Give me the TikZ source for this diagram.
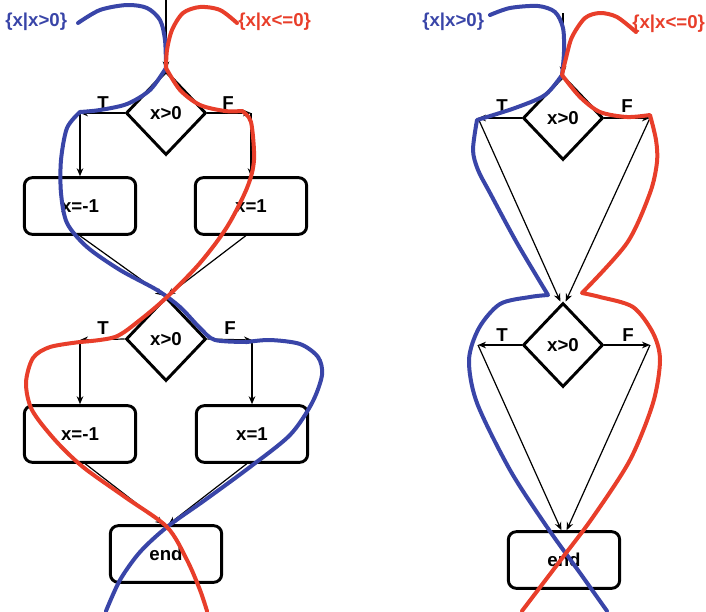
\documentclass[tikz,border=0pt]{standalone}
\usepackage{fontspec}
\setmainfont{Liberation Sans}
\usetikzlibrary{shapes.geometric,arrows.meta}
\definecolor{setblue}{RGB}{57,69,168}
\definecolor{setred}{RGB}{232,62,42}
\begin{document}
\begin{tikzpicture}[x=0.75pt,y=-0.75pt,
  font=\bfseries\fontsize{14}{16}\selectfont,
  test/.style={diamond, draw, line width=2.2pt, minimum width=60pt, minimum height=63pt, inner sep=0pt},
  proc/.style={rectangle, rounded corners=6pt, draw, line width=2.2pt, minimum width=83.5pt, minimum height=42.5pt},
  arr/.style={-{Stealth[length=6pt,width=5pt]}, line width=0.9pt},
  lbl/.style={inner sep=0pt},
  bluepath/.style={setblue, line width=3pt, line cap=round, line join=round},
  redpath/.style={setred, line width=3pt, line cap=round, line join=round}]
\useasboundingbox (0,0) rectangle (706,611);

% ---------- left flowchart: two tests in sequence ----------
\coordinate (Ltop) at (166,0);
\node[test] (d1) at (166,113) {x>0};
\coordinate (cT1) at (80,113);
\coordinate (cF1) at (251,113);
\node[proc] (b1) at (80,206) {x=-1};
\node[proc] (b2) at (251,206) {x=1};
\node[test] (d2) at (166,339) {x>0};
\coordinate (cT2) at (80,340);
\coordinate (cF2) at (252,340);
\node[proc] (b3) at (80,434) {x=-1};
\node[proc] (b4) at (252,434) {x=1};
\node[proc] (e1) at (166,554) {end};

\node[lbl] (tT1) at (103,103) {T};
\node[lbl] (tF1) at (228,103) {F};
\node[lbl] (tT2) at (103,328) {T};
\node[lbl] (tF2) at (230,328) {F};

\draw[arr] (Ltop) -- (d1.north);
\draw[arr] (d1.west) -- (cT1);
\draw[arr] (cT1) -- (b1.north);
\draw[arr] (d1.east) -- (cF1);
\draw[arr] (cF1) -- (b2.north);
\draw[arr] (b1.south) -- ([xshift=-2pt]d2.north);
\draw[arr] ([xshift=-4pt]b2.south) -- ([xshift=1pt]d2.north);
\draw[arr] (d2.west) -- (cT2);
\draw[arr] (cT2) -- (b3.north);
\draw[arr] (d2.east) -- (cF2);
\draw[arr] (cF2) -- (b4.north);
\draw[arr] ([xshift=4pt]b3.south) -- ([xshift=-2pt]e1.north);
\draw[arr] ([xshift=-4pt]b4.south) -- ([xshift=2pt]e1.north);

% ---------- right flowchart: tests merged ----------
\coordinate (Rtop) at (563,13);
\node[test] (rd1) at (563,118) {x>0};
\coordinate (rT1) at (478,118);
\coordinate (rF1) at (650,118);
\node[test] (rd2) at (563,345) {x>0};
\coordinate (rT2) at (478,345);
\coordinate (rF2) at (650,345);
\node[proc] (re) at (564,560) {end};

\node[lbl] (rtT1) at (502,106) {T};
\node[lbl] (rtF1) at (627,106) {F};
\node[lbl] (rtT2) at (502,335) {T};
\node[lbl] (rtF2) at (628,335) {F};

\draw[arr] (Rtop) -- (rd1.north);
\draw[arr] (rd1.west) -- (rT1);
\draw[arr] (rd1.east) -- (rF1);
\draw[arr] (rT1) -- ([xshift=-2pt]rd2.north);
\draw[arr] (rF1) -- ([xshift=2pt]rd2.north);
\draw[arr] (rd2.west) -- (rT2);
\draw[arr] (rd2.east) -- (rF2);
\draw[arr] (rT2) -- ([xshift=-2pt]re.north);
\draw[arr] (rF2) -- ([xshift=2pt]re.north);

% ---------- input sets ----------
\node[lbl, text=setblue, anchor=west] (sL1) at (5,22) {\{x|x>0\}};
\node[lbl, text=setred, anchor=west] (sL2) at (238,22) {\{x|x<=0\}};
\node[lbl, text=setblue, anchor=west] (sR1) at (422,22) {\{x|x>0\}};
\node[lbl, text=setred, anchor=west] (sR2) at (632,24) {\{x|x<=0\}};

% ---------- paths of the two sets, left ----------
\draw[bluepath]
  plot[smooth] coordinates {(78,23) (100,10) (127,5) (147,8) (160,20) (165,40) (166,68)}
  -- plot[smooth] coordinates {(166,68) (150,90) (127,104) (100,110) (80,112)}
  -- plot[smooth] coordinates {(80,112) (67,128) (61,160) (61,193) (67,223) (87,247) (120,270) (157,290) (180,307) (200,328) (215,340) (247,342)}
  -- plot[smooth] coordinates {(247,342) (270,340) (300,344) (318,357) (322,375) (312,403) (290,435) (250,467) (205,500) (167,527) (140,552) (120,580) (106,611)};
\draw[redpath]
  plot[smooth] coordinates {(237,23) (220,10) (200,7) (183,13) (172,30) (167,50) (166,68)}
  -- plot[smooth] coordinates {(166,68) (180,90) (200,105) (225,111) (242,111)}
  -- plot[smooth] coordinates {(242,111) (251,122) (254,160) (247,188) (227,227) (200,263) (167,297) (140,320) (115,337) (80,342)}
  -- plot[smooth] coordinates {(80,342) (50,347) (33,358) (26,383) (32,410) (55,440) (83,467) (125,497) (167,527) (187,560) (200,590) (207,611)};

% ---------- paths of the two sets, right ----------
\draw[bluepath]
  plot[smooth] coordinates {(490,15) (510,8) (538,6) (555,12) (563,28) (564,52) (562,75)}
  -- plot[smooth] coordinates {(562,75) (545,95) (515,108) (477,120)}
  -- plot[smooth] coordinates {(477,120) (473,150) (478,170) (490,193) (517,243) (548,295)}
  -- plot[smooth] coordinates {(548,295) (530,297) (500,304) (479,328) (469,360) (477,403) (510,470) (547,527) (580,573) (607,611)};
\draw[redpath]
  plot[smooth] coordinates {(636,32) (617,17) (600,13) (585,18) (572,37) (566,58) (562,75)}
  -- plot[smooth] coordinates {(562,75) (580,97) (600,112) (627,117) (650,115)}
  -- plot[smooth] coordinates {(650,115) (656,140) (657,162) (650,193) (627,243) (582,293)}
  -- plot[smooth] coordinates {(582,293) (600,297) (633,307) (653,333) (660,360) (653,403) (630,460) (593,517) (563,557) (522,611)};
\end{tikzpicture}
\end{document}
